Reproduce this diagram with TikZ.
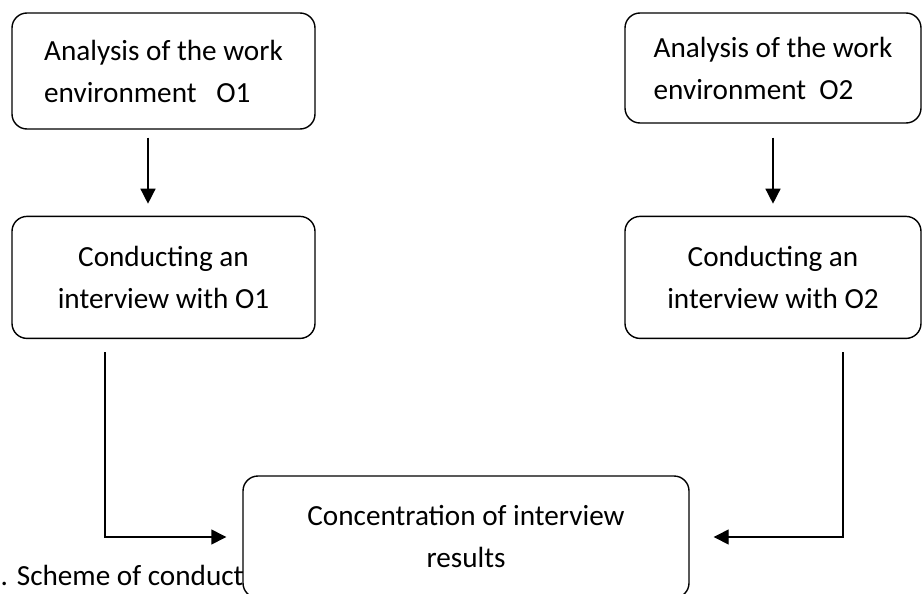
\documentclass[tikz,border=0pt]{standalone}
\usepackage{fontspec}
\setmainfont{Carlito}
\usetikzlibrary{positioning,arrows.meta}
\tikzset{
	block/.style     = {draw, fill=white, rectangle, rounded corners=7.5pt, line width=0.7pt, inner ysep=0pt, inner xsep=6pt, minimum width=151.5pt, minimum height=61pt, font=\fontsize{14.6pt}{21pt}\selectfont},
	leftblock/.style = {block, align=left},
	midblock/.style  = {block, align=center},
	caption/.style   = {anchor=base west, inner sep=0pt, font=\fontsize{14.6pt}{21pt}\selectfont},
	hidden/.style    = {coordinate},
}

\begin{document}
\begin{tikzpicture}[x=0.5pt, y=-0.5pt, >={Triangle[length=7.5pt, width=7.5pt]}, line width=0.7pt]
	\useasboundingbox (0,0) rectangle (922,594);

	% Draw the caption (partly under the last block)
	\node[caption] (caption) at (0,585) {. Scheme of conducting};

	% Draw the blocks of both branches
	\node[leftblock, minimum height=58pt] (analysisone) at (163.5,71) {Analysis of the work\\environment\ \ \ O1};
	\node[midblock, below=43pt of analysisone] (interviewone) {Conducting an\\interview with O1};

	\node[leftblock, minimum width=148pt, minimum height=55pt] (analysistwo) at (773,68) {Analysis of the work\\environment\ \ O2};
	\node[midblock, minimum width=148pt] (interviewtwo) at (interviewone -| analysistwo) {Conducting an\\interview with O2};

	% Draw the joining block
	\node[midblock, minimum width=223pt] (concentration) at (466,537) {Concentration of interview\\results};

	% Connect everything together
	\draw[->, shorten <=4pt, shorten >=6pt] ([xshift=-7.75pt]analysisone.south) -- ([xshift=-7.75pt]analysisone.south |- interviewone.north);
	\draw[->, shorten <=7pt, shorten >=6pt] (analysistwo.south) -- (analysistwo.south |- interviewtwo.north);

	\draw[->, shorten <=6.5pt, shorten >=8pt] ([xshift=-29.25pt]interviewone.south) |- (concentration.west);
	\draw[->, shorten <=6.5pt, shorten >=12pt] ([xshift=35pt]interviewtwo.south) |- (concentration.east);
\end{tikzpicture}
\end{document}
